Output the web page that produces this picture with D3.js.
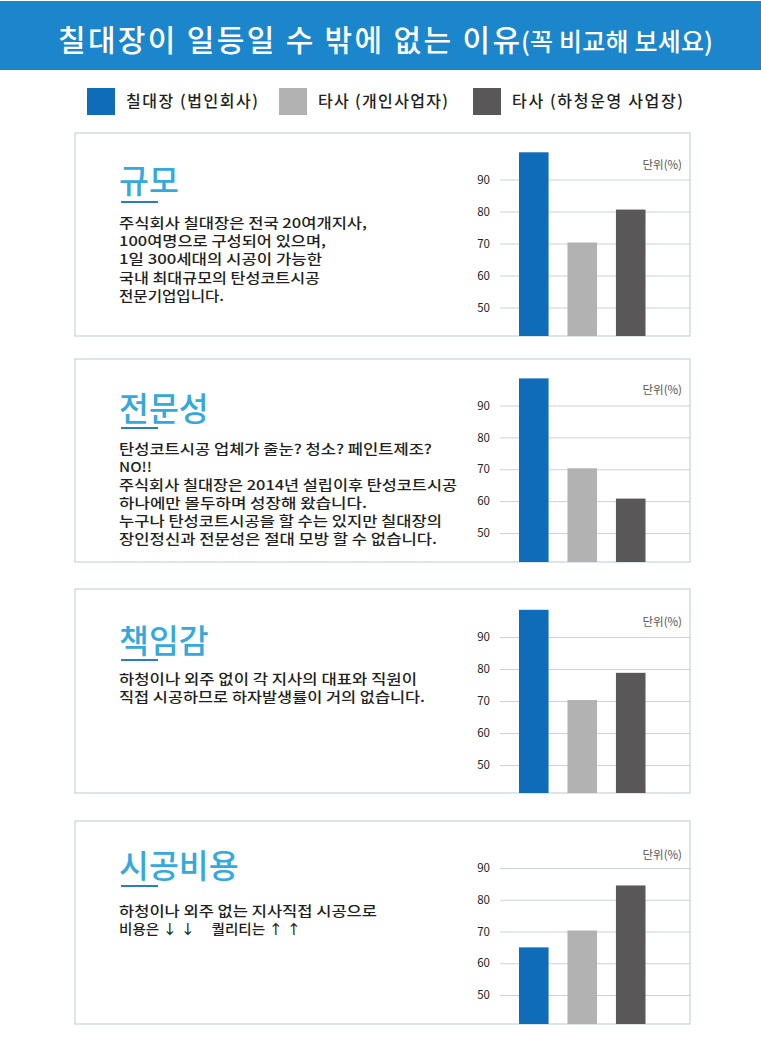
<!DOCTYPE html>
<html>
<head>
<meta charset="utf-8">
<script src="https://cdn.jsdelivr.net/npm/d3@7"></script>
<style>
  html, body { margin: 0; padding: 0; background: #fff; }
  svg { display: block; }
  text { font-family: "Noto Sans CJK KR", "Noto Sans", sans-serif; }
</style>
</head>
<body>
<div id="chart"></div>
<script>
// data
var companies = ["칠대장 (법인회사)", "타사 (개인사업자)", "타사 (하청운영 사업장)"];
var colors = ["#0f6cb8", "#b2b2b2", "#595757"];
var ticks = [50, 60, 70, 80, 90];

var headings = ["규모", "전문성", "책임감", "시공비용"];
var sizeValues = [98.5, 70.3, 80.6];
var expertValues = [98.5, 70.3, 60.8];
var dutyValues = [98.5, 70.3, 78.8];
var costValues = [65, 70.3, 84.5];

var sizeText = [
  "주식회사 칠대장은 전국 20여개지사,",
  "100여명으로 구성되어 있으며,",
  "1일 300세대의 시공이 가능한",
  "국내 최대규모의 탄성코트시공",
  "전문기업입니다."
];
var expertText = [
  "탄성코트시공 업체가 줄눈? 청소? 페인트제조?",
  "NO!!",
  "주식회사 칠대장은 2014년 설립이후 탄성코트시공",
  "하나에만 몰두하며 성장해 왔습니다.",
  "누구나 탄성코트시공을 할 수는 있지만 칠대장의",
  "장인정신과 전문성은 절대 모방 할 수 없습니다."
];
var dutyText = [
  "하청이나 외주 없이 각 지사의 대표와 직원이",
  "직접 시공하므로 하자발생률이 거의 없습니다."
];
var costText = [
  "하청이나 외주 없는 지사직접 시공으로",
  "비용은 ↓ ↓     퀄리티는 ↑ ↑"
];

// layout, one entry per panel
var panelTop = [133, 359, 589, 821];
var panelBottom = [336, 562, 793, 1024];
var y90 = [179.5, 405.5, 637, 868];
var y50 = [307.5, 533, 765, 995];
var headCenter = [180, 408, 640, 865];
var underlineY = [202, 428, 660, 886];
var bodyCenter = [223, 449, 679, 911];
var unitCenter = [165, 390, 622, 855];

// measured width of each text line
var bodyWidths = [
  [248, 207, 203, 201, 105],
  [313, 33, 338, 248, 323, 318],
  [298, 306],
  [258, 182]
];

var values = [sizeValues, expertValues, dutyValues, costValues];
var bodies = [sizeText, expertText, dutyText, costText];

var svg = d3.select("#chart").append("svg")
  .attr("width", 761)
  .attr("height", 1056);

// header band
svg.append("rect")
  .attr("x", 0).attr("y", 1)
  .attr("width", 761).attr("height", 69)
  .attr("fill", "#1b86cb");

svg.append("text")
  .attr("x", 58).attr("y", 51)
  .attr("fill", "#fff")
  .attr("font-size", 30)
  .attr("font-weight", 500)
  .attr("textLength", 462)
  .text("칠대장이 일등일 수 밖에 없는 이유");

svg.append("text")
  .attr("x", 521).attr("y", 51)
  .attr("fill", "#fff")
  .attr("font-size", 25)
  .attr("font-weight", 500)
  .attr("textLength", 192)
  .text("(꼭 비교해 보세요)");

// legend
var legendX = [87, 279, 473];
var legendW = [132, 130, 171];
companies.forEach(function(name, i) {
  svg.append("rect")
    .attr("x", legendX[i]).attr("y", 88)
    .attr("width", 28).attr("height", 27)
    .attr("fill", colors[i]);
  svg.append("text")
    .attr("x", legendX[i] + 39).attr("y", 107)
    .attr("fill", "#231f20")
    .attr("font-size", 16)
    .attr("font-weight", 500)
    .attr("textLength", legendW[i])
    .text(name);
});

// panels
headings.forEach(function(title, p) {
  var g = svg.append("g");
  var bottom = panelBottom[p];

  var y = d3.scaleLinear().domain([50, 90]).range([y50[p], y90[p]]);
  var x = d3.scaleBand()
    .domain(companies)
    .range([519, 645.5])
    .paddingInner(0.39);

  g.append("rect")
    .attr("x", 75).attr("y", panelTop[p])
    .attr("width", 615).attr("height", bottom - panelTop[p])
    .attr("fill", "#fff")
    .attr("stroke", "#b9cbd6")
    .attr("stroke-width", 1);

  var axis = g.append("g")
    .attr("transform", "translate(500,0)")
    .call(d3.axisLeft(y).tickValues(ticks).tickSize(-190).tickPadding(10));
  axis.select(".domain").remove();
  axis.selectAll(".tick line").attr("stroke", "#c9d3d6");
  axis.selectAll(".tick text")
    .attr("fill", "#231f20")
    .attr("font-size", 11.5)
    .style("font-family", '"Noto Sans CJK KR", sans-serif');

  g.selectAll(".bar")
    .data(values[p])
    .enter().append("rect")
      .attr("class", "bar")
      .attr("x", function(d, i) { return x(companies[i]); })
      .attr("y", function(d) { return y(d); })
      .attr("width", x.bandwidth())
      .attr("height", function(d) { return bottom - y(d); })
      .attr("fill", function(d, i) { return colors[i]; });

  g.append("text")
    .attr("x", 682).attr("y", unitCenter[p] + 4)
    .attr("text-anchor", "end")
    .attr("fill", "#555")
    .attr("font-size", 11.5)
    .text("단위(%)");

  g.append("text")
    .attr("x", 119).attr("y", headCenter[p] + 13)
    .attr("fill", "#36a9dc")
    .attr("font-size", 32.5)
    .attr("font-weight", 500)
    .text(title);

  g.append("rect")
    .attr("x", 121).attr("y", underlineY[p] - 1)
    .attr("width", 37).attr("height", 2)
    .attr("fill", "#2a7fb8");

  var step = bodies[p].length == 6 ? 18 : 18.2;
  g.selectAll(".line")
    .data(bodies[p])
    .enter().append("text")
      .attr("class", "line")
      .attr("x", 119)
      .attr("y", function(d, i) { return bodyCenter[p] + 5 + i * step; })
      .attr("fill", "#231f20")
      .attr("font-size", 13.5)
      .attr("font-weight", 500)
      .attr("textLength", function(d, i) { return bodyWidths[p][i]; })
      .attr("lengthAdjust", "spacingAndGlyphs")
      .style("white-space", "pre")
      .text(function(d) { return d; });
});
</script>
</body>
</html>
